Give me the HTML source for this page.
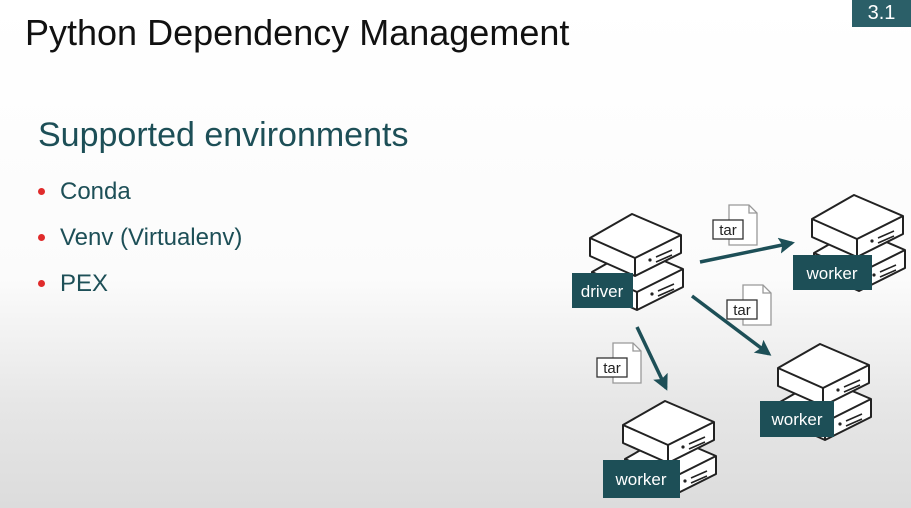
<!DOCTYPE html>
<html><head><meta charset="utf-8"><style>
html,body{margin:0;padding:0}
body{width:911px;height:508px;overflow:hidden;position:relative;font-family:"Liberation Sans",sans-serif;background:linear-gradient(#fff 0%,#fbfbfb 55%,#e6e6e6 80%,#dcdcdc 100%)}
.t{position:absolute;left:25px;top:12px;font-size:36px;color:#111;white-space:nowrap}
.s{position:absolute;left:38px;top:116px;font-size:34px;color:#1d4f57;white-space:nowrap}
.b{position:absolute;left:60px;font-size:24px;color:#1d4f57;white-space:nowrap}
.d{position:absolute;left:38px;width:7px;height:7px;border-radius:50%;background:#e02b2b}
.badge{position:absolute;left:852px;top:0;width:59px;height:27px;background:#2b5f68;color:#fff;font-size:20px;text-align:center;line-height:27px}
svg{position:absolute;left:0;top:0}
</style></head><body>
<div class="t">Python Dependency Management</div>
<div class="badge">3.1</div>
<div class="s">Supported environments</div>
<div class="d" style="top:188px"></div><div class="b" style="top:178px">Conda</div>
<div class="d" style="top:234px"></div><div class="b" style="top:224px">Venv (Virtualenv)</div>
<div class="d" style="top:280px"></div><div class="b" style="top:270px">PEX</div>
<svg width="911" height="508" viewBox="0 0 911 508">
<defs>
<g id="box" stroke="#222" stroke-width="2" fill="#fff" stroke-linejoin="round">
<path d="M0 0 L42 -24 L91 -3 L91 15 L45 38 L0 18 Z"/>
<path d="M0 0 L45 20 L91 -3 M45 20 L45 38" fill="none"/>
<circle cx="60" cy="22" r="1.6" fill="#222" stroke="none"/>
<path d="M66 19 L82 12 M66 24 L82 17" fill="none" stroke-width="1.6"/>
</g>
<g id="srv">
<use href="#box" transform="translate(2,34)"/>
<use href="#box"/>
</g>
<g id="tar">
<path d="M16 0 H36 L44 8 V40 H16 Z" fill="#fff" stroke="#999" stroke-width="1.3"/>
<path d="M36 0 V8 H44" fill="none" stroke="#999" stroke-width="1.3"/>
<rect x="0" y="15" width="30" height="19" fill="#fff" stroke="#333" stroke-width="1.3"/>
<text x="15" y="30" font-size="15" text-anchor="middle" fill="#222" font-family="Liberation Sans,sans-serif">tar</text>
</g>
<marker id="ah" markerWidth="18" markerHeight="18" refX="13" refY="8" orient="auto" markerUnits="userSpaceOnUse">
<path d="M0 0 L16 8 L0 16 L3 8 Z" fill="#1d4f57"/></marker>
</defs>
<g stroke="#1d4f57" stroke-width="3.5" marker-end="url(#ah)">
<line x1="700" y1="262" x2="792" y2="243"/>
<line x1="692" y1="296" x2="769" y2="354"/>
<line x1="637" y1="327" x2="666" y2="388"/>
</g>
<use href="#tar" transform="translate(713,205)"/>
<use href="#tar" transform="translate(727,285)"/>
<use href="#tar" transform="translate(597,343)"/>
<g font-size="17" fill="#fff" font-family="Liberation Sans,sans-serif" text-anchor="middle">
<use href="#srv" transform="translate(590,238)"/>
<rect x="572" y="273" width="61" height="35" fill="#1d4f57"/><text x="602" y="297">driver</text>
<use href="#srv" transform="translate(812,219)"/>
<rect x="793" y="255" width="79" height="35" fill="#1d4f57"/><text x="832" y="279">worker</text>
<use href="#srv" transform="translate(778,368)"/>
<rect x="760" y="401" width="74" height="36" fill="#1d4f57"/><text x="797" y="425">worker</text>
<use href="#srv" transform="translate(623,425)"/>
<rect x="603" y="460" width="77" height="38" fill="#1d4f57"/><text x="641" y="485">worker</text>
</g>
</svg>
</body></html>
